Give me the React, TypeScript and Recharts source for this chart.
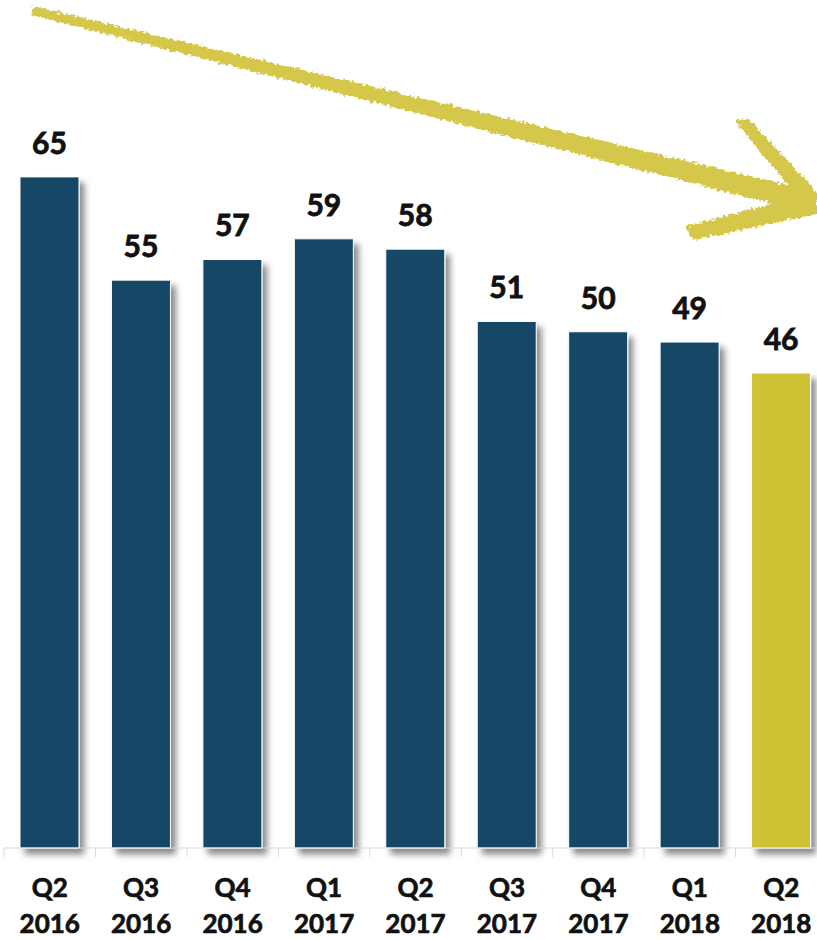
import { BarChart, Bar, XAxis, YAxis, Cell, LabelList } from "recharts";

const quarters = ["Q2", "Q3", "Q4", "Q1", "Q2", "Q3", "Q4", "Q1", "Q2"];
const years = ["2016", "2016", "2016", "2017", "2017", "2017", "2017", "2018", "2018"];
const values = [65, 55, 57, 59, 58, 51, 50, 49, 46];

const data = quarters.map((q, i) => ({
  period: `${q} ${years[i]}`,
  quarter: q,
  year: years[i],
  value: values[i],
}));

const W = 830;
const H = 940;
const M = { top: 22, right: 3, left: 4, bottom: 0 };
const AXIS_H = 92;
const BAND = (W - M.left - M.right) / data.length;
const BASE_Y = H - M.bottom - AXIS_H;

const BLUE = "#144766";
const GOLD = "#cfc236";
const FONT = "Lato, 'Open Sans', sans-serif";

// tick labels on two lines + small separator ticks between bars
function PeriodTick(props: any) {
  const { x, payload, index } = props;
  const d = data[index] ?? data.find((r) => r.period === payload.value);
  const txt = { textAnchor: "middle" as const, fontFamily: FONT, fontWeight: 700, fontSize: 26, fill: "#111", stroke: "#111", strokeWidth: 0.7 };
  return (
    <g>
      <line x1={x - BAND / 2} x2={x - BAND / 2} y1={BASE_Y} y2={BASE_Y + 9} stroke="#d9d9d9" />
      <text x={x} y={BASE_Y + 49} {...txt}>
        {d?.quarter}
      </text>
      <text x={x} y={BASE_Y + 85} {...txt}>
        {d?.year}
      </text>
    </g>
  );
}

function ValueLabel(props: any) {
  const { x, y, width, value } = props;
  return (
    <text
      x={x + width / 2}
      y={y - 23}
      textAnchor="middle"
      fontFamily={FONT}
      fontWeight={700}
      fontSize={30}
      fill="#111"
      stroke="#111"
      strokeWidth={0.8}
    >
      {value}
    </text>
  );
}

// hand-drawn looking trend arrow (decoration only)
function TrendArrow() {
  return (
    <svg width={817} height={940} style={{ position: "absolute", left: 0, top: 0, pointerEvents: "none" }}>
      <defs>
        <filter id="rough" x="-5%" y="-20%" width="110%" height="140%">
          <feTurbulence type="fractalNoise" baseFrequency="0.3" numOctaves={2} seed={3} result="n" />
          <feDisplacementMap in="SourceGraphic" in2="n" scale={7} xChannelSelector="R" yChannelSelector="G" />
        </filter>
      </defs>
      <g fill="#d4c74a" stroke="#d4c74a" filter="url(#rough)">
        <path d="M 34 8 L 33 14 L 811 212 L 815 193 Z" strokeWidth={3} strokeLinejoin="round" />
        <path d="M 738 122 L 748 121 L 818 196 L 808 206 Z" strokeWidth={4} strokeLinejoin="round" />
        <path d="M 688 228 L 812 195 L 816 212 L 694 238 Z" strokeWidth={4} strokeLinejoin="round" />
      </g>
    </svg>
  );
}

export default function App() {
  return (
    <div style={{ position: "absolute", left: 0, top: 0, width: 817, height: 940, overflow: "hidden", background: "#fff" }}>
      <svg width={0} height={0} style={{ position: "absolute" }}>
        <defs>
          <filter id="barShadow" x="-20%" y="-5%" width="150%" height="115%">
            <feDropShadow dx={5} dy={6} stdDeviation={3} floodColor="#000" floodOpacity={0.45} />
          </filter>
        </defs>
      </svg>
      <BarChart width={W} height={H} data={data} margin={M} barSize={59}>
        <XAxis
          dataKey="period"
          height={AXIS_H}
          interval={0}
          axisLine={{ stroke: "#d9d9d9" }}
          tickLine={false}
          tick={<PeriodTick />}
        />
        <YAxis hide domain={[0, 80]} />
        <Bar dataKey="value" isAnimationActive={false} stroke="#ffffff" strokeWidth={1} filter="url(#barShadow)">
          {data.map((d, i) => (
            <Cell key={d.period} fill={i === data.length - 1 ? GOLD : BLUE} />
          ))}
          <LabelList dataKey="value" content={<ValueLabel />} />
        </Bar>
      </BarChart>
      <TrendArrow />
    </div>
  );
}
